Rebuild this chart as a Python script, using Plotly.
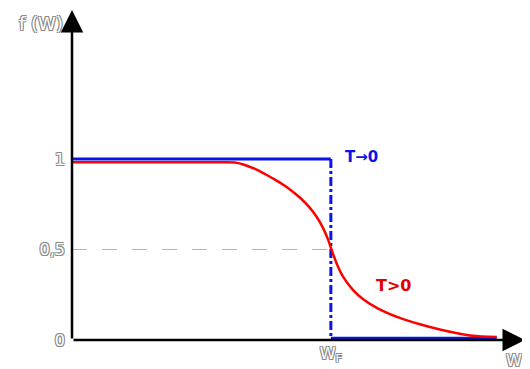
import plotly.graph_objects as go

# data (x in units of W_F)
red_x = [0, 0.591, 0.629, 0.668, 0.707, 0.745, 0.784, 0.822, 0.853, 0.880, 0.919, 0.945,
         0.970, 0.990, 1.0, 1.022, 1.047, 1.086, 1.125, 1.181, 1.266, 1.344, 1.421, 1.498,
         1.548, 1.641]
red_y = [0.982, 0.982, 0.980, 0.967, 0.945, 0.917, 0.886, 0.852, 0.819, 0.787, 0.730, 0.681,
         0.618, 0.552, 0.51, 0.424, 0.35, 0.276, 0.225, 0.175, 0.122, 0.087, 0.058, 0.035,
         0.024, 0.016]
blue_x_top = [0, 1.0]
blue_y_top = [1.0, 1.0]
blue_x_drop = [1.0, 1.0]
blue_y_drop = [1.0, 0.01]
blue_x_bot = [1.0, 1.641]
blue_y_bot = [0.009, 0.009]
half_x = [0, 1.0]
half_y = [0.5, 0.5]
ytick_vals = [0, 0.5, 1]
ytick_text = ["0", "0,5", "1"]
xtick_vals = [1.0]
xtick_text = ["W<sub>F</sub>"]

outline = "1px 1px 0 #8a8a8a, -1px -1px 0 #8a8a8a, 1px -1px 0 #8a8a8a, -1px 1px 0 #8a8a8a"
gfont = dict(family="DejaVu Sans", size=16, color="white", shadow=outline)

fig = go.Figure()
fig.add_trace(go.Scatter(x=half_x, y=half_y, mode="lines",
                         line=dict(color="#b5b5b5", width=1, dash="longdash")))
fig.add_trace(go.Scatter(x=blue_x_top, y=blue_y_top, mode="lines",
                         line=dict(color="#0a14e6", width=3)))
fig.add_trace(go.Scatter(x=blue_x_drop, y=blue_y_drop, mode="lines",
                         line=dict(color="#0a14e6", width=3, dash="dashdot")))
fig.add_trace(go.Scatter(x=blue_x_bot, y=blue_y_bot, mode="lines",
                         line=dict(color="#0a14e6", width=3)))
fig.add_trace(go.Scatter(x=red_x, y=red_y, mode="lines",
                         line=dict(color="#ff0000", width=2.5, shape="spline", smoothing=0.8)))

# axis arrows
fig.add_annotation(x=1.75, y=0, ax=0, ay=0, xref="x", yref="y", axref="x", ayref="y",
                   showarrow=True, arrowhead=2, arrowsize=1.8, arrowwidth=2.5,
                   arrowcolor="black", text="")
fig.add_annotation(x=0, y=1.823, ax=0, ay=0, xref="x", yref="y", axref="x", ayref="y",
                   showarrow=True, arrowhead=2, arrowsize=1.8, arrowwidth=2.5,
                   arrowcolor="black", text="")

fig.add_annotation(x=-0.016, y=0.958, xref="paper", yref="paper", text="f (W)", showarrow=False,
                   xanchor="right", yanchor="middle",
                   font=dict(family="DejaVu Sans", size=18, color="white", shadow=outline))
fig.add_annotation(x=0.976, y=-0.061, xref="paper", yref="paper", text="W", showarrow=False,
                   xanchor="center", yanchor="middle", font=gfont)
fig.add_annotation(x=1.046, y=1.01, xref="x", yref="y", text="<b>T→0</b>", showarrow=False,
                   xanchor="left", font=dict(family="DejaVu Sans", size=15, color="#0a14e6"))
fig.add_annotation(x=1.165, y=0.3, xref="x", yref="y", text="<b>T>0</b>", showarrow=False,
                   xanchor="left", font=dict(family="DejaVu Sans", size=16, color="#e00000"))

fig.update_layout(
    width=530, height=369,
    margin=dict(l=64, r=13, t=2, b=37, autoexpand=False),
    paper_bgcolor="white", plot_bgcolor="white",
    showlegend=False,
    xaxis=dict(range=[0, 1.75], showgrid=False, zeroline=False, showline=False,
               tickvals=xtick_vals, ticktext=xtick_text, ticks="",
               tickfont=dict(family="DejaVu Sans", size=16, color="white", shadow=outline),
               ticklabelstandoff=2),
    yaxis=dict(range=[0, 1.823], showgrid=False, zeroline=False, showline=False,
               tickvals=ytick_vals, ticktext=ytick_text, ticks="", tickfont=gfont, ticklabelstandoff=6),
)
fig.write_html("out.html")
